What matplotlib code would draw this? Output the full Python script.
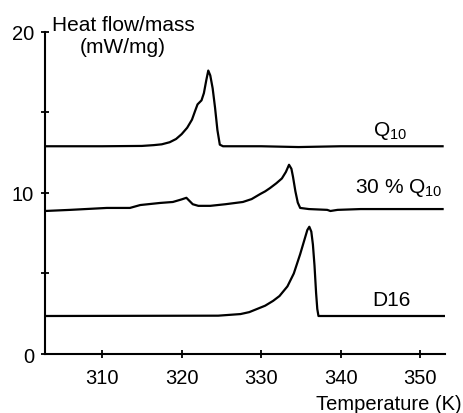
import matplotlib
matplotlib.use("Agg")
import matplotlib.pyplot as plt
from matplotlib.ticker import MultipleLocator

plt.rcParams['font.family'] = ['Liberation Sans', 'DejaVu Sans']
plt.rcParams['mathtext.fontset'] = 'custom'
plt.rcParams['mathtext.rm'] = 'Liberation Sans'
plt.rcParams['mathtext.it'] = 'Liberation Sans'

# Q10 trace
t_q10 = [302.8, 310, 315, 316.5, 317.5, 318.5, 319.3, 320.0, 320.7, 321.3, 321.7,
         322.0, 322.5, 322.8, 323.1, 323.35, 323.6, 323.9, 324.2, 324.5, 324.8,
         325.2, 330, 334.7, 340, 345, 352.8]
v_q10 = [12.9, 12.9, 12.92, 12.97, 13.02, 13.15, 13.35, 13.65, 14.05, 14.55, 15.1,
         15.5, 15.75, 16.2, 17.0, 17.6, 17.3, 16.5, 15.3, 13.9, 13.0,
         12.9, 12.9, 12.85, 12.9, 12.9, 12.9]

# 30 % Q10 trace
t_30 = [302.8, 306, 310.6, 313.5, 314.8, 317.3, 318.9, 320.0, 320.6, 321.4, 322.1,
        323.6, 325.5, 327.7, 328.8, 329.9, 330.5, 331.1, 331.9, 332.6, 333.1, 333.5,
        333.8, 334.0, 334.3, 334.6, 334.9, 336, 338.3, 338.7, 339.6, 342.5, 352.8]
v_30 = [8.88, 8.95, 9.07, 9.07, 9.25, 9.38, 9.44, 9.6, 9.7, 9.3, 9.2,
        9.2, 9.3, 9.44, 9.62, 9.94, 10.1, 10.3, 10.6, 10.9, 11.3, 11.75,
        11.5, 11.0, 10.1, 9.4, 9.07, 9.0, 8.95, 8.88, 8.95, 9.0, 9.0]

# D16 trace
t_d16 = [302.8, 324.6, 327.4, 328.5, 329.5, 330.5, 331.5, 332.3, 332.8, 333.3,
         333.6, 334.1, 334.5, 334.9, 335.2, 335.5, 335.8, 336.05, 336.3, 336.5,
         336.7, 336.9, 337.05, 337.2, 353.0]
v_d16 = [2.36, 2.38, 2.48, 2.6, 2.8, 3.0, 3.3, 3.6, 3.9, 4.2,
         4.5, 5.0, 5.6, 6.2, 6.7, 7.2, 7.7, 7.9, 7.6, 6.8,
         5.5, 3.8, 2.8, 2.36, 2.36]

x_ticks = [310, 320, 330, 340, 350]
y_ticks = [0, 10, 20]

fig = plt.figure(figsize=(4.64, 4.14), dpi=100)
ax = fig.add_axes([0.097, 0.1425, 0.862, 0.778])

for t, v in [(t_q10, v_q10), (t_30, v_30), (t_d16, v_d16)]:
    ax.plot(t, v, color='black', lw=1.6)

ax.text(344.0, 13.9, 'Q$_{10}$', fontsize=15, va='center')
ax.text(341.8, 10.4, '30 % Q$_{10}$', fontsize=15, va='center')
ax.text(344.0, 3.4, 'D16', fontsize=15, va='center')

ax.set_xlim(302.83, 353.1)
ax.set_ylim(0, 20)
ax.set_xticks(x_ticks)
ax.set_yticks(y_ticks)
ax.yaxis.set_minor_locator(MultipleLocator(5))
ax.tick_params(which='both', direction='inout', length=6, width=1.3, labelsize=14.5)
ax.tick_params(axis='x', pad=7)
ax.tick_params(axis='y', pad=5)
for s in ['top', 'right']:
    ax.spines[s].set_visible(False)
for s in ['left', 'bottom']:
    ax.spines[s].set_linewidth(1.5)

fig.text(0.265, 0.962, 'Heat flow/mass\n(mW/mg)', fontsize=15, ha='center', va='top',
         multialignment='center', linespacing=1.25)
fig.text(0.995, 0.022, 'Temperature (K)', fontsize=14.5, ha='right', va='center')

fig.savefig('out.png', dpi=100)
